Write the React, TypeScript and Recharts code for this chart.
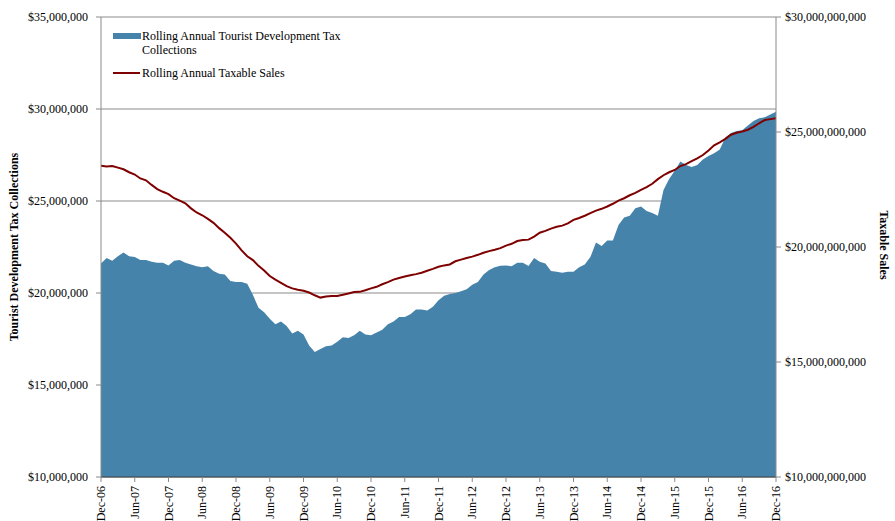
import {
  ComposedChart,
  Area,
  Line,
  XAxis,
  YAxis,
  CartesianGrid,
} from "recharts";

// Dec-06 .. Dec-16, monthly
const months = ["Jan", "Feb", "Mar", "Apr", "May", "Jun", "Jul", "Aug", "Sep", "Oct", "Nov", "Dec"];
const labels: string[] = [];
for (let i = 0; i <= 120; i++) {
  const m = (11 + i) % 12;
  const yr = 6 + Math.floor((11 + i) / 12);
  labels.push(`${months[m]}-${String(yr).padStart(2, "0")}`);
}

// rolling annual TDT collections, $ millions
const tdtCollections = [
  21.6, 21.9, 21.75, 22.0, 22.2, 22.0, 21.95, 21.8, 21.8, 21.7, 21.65, 21.65,
  21.5, 21.75, 21.8, 21.65, 21.55, 21.45, 21.4, 21.45, 21.2, 21.05, 21.0, 20.65,
  20.6, 20.6, 20.5, 19.9, 19.2, 18.95, 18.6, 18.3, 18.45, 18.2, 17.8, 17.95,
  17.75, 17.15, 16.8, 16.95, 17.1, 17.15, 17.35, 17.6, 17.55, 17.7, 17.95, 17.75,
  17.7, 17.85, 18.0, 18.3, 18.45, 18.7, 18.7, 18.85, 19.1, 19.1, 19.05, 19.25,
  19.6, 19.85, 19.95, 20.0, 20.1, 20.2, 20.45, 20.6, 21.0, 21.25, 21.4, 21.48,
  21.5, 21.45, 21.65, 21.65, 21.47, 21.9, 21.7, 21.6, 21.2, 21.15, 21.1, 21.15,
  21.15, 21.4, 21.55, 21.95, 22.75, 22.55, 22.85, 22.85, 23.7, 24.1, 24.2, 24.6,
  24.7, 24.45, 24.35, 24.2, 25.6, 26.2, 26.65, 27.15, 26.95, 26.85, 26.95, 27.25,
  27.45, 27.6, 27.8, 28.45, 28.7, 28.8, 28.85, 29.1, 29.35, 29.5, 29.55, 29.7,
  29.85,
];

// rolling annual taxable sales, $ billions
const taxableSales = [
  23.53, 23.5, 23.52, 23.45, 23.38, 23.25, 23.15, 22.98, 22.9, 22.7, 22.52, 22.4,
  22.3, 22.12, 22.02, 21.9, 21.68, 21.5, 21.38, 21.22, 21.05, 20.82, 20.62, 20.4,
  20.15, 19.85, 19.6, 19.43, 19.18, 18.98, 18.74, 18.58, 18.44, 18.3, 18.2, 18.14,
  18.1, 18.02, 17.9, 17.8, 17.85, 17.87, 17.87, 17.92, 17.98, 18.04, 18.05, 18.12,
  18.2, 18.27, 18.38, 18.47, 18.58, 18.65, 18.72, 18.77, 18.82, 18.88, 18.97, 19.05,
  19.14, 19.2, 19.24, 19.38, 19.45, 19.52, 19.58, 19.66, 19.75, 19.82, 19.88, 19.95,
  20.06, 20.14, 20.26, 20.3, 20.32, 20.45, 20.62, 20.7, 20.8, 20.88, 20.93, 21.03,
  21.18, 21.26, 21.36, 21.47, 21.58, 21.66, 21.76, 21.88, 22.02, 22.12, 22.25, 22.35,
  22.48, 22.6, 22.75, 22.95, 23.12, 23.25, 23.35, 23.52, 23.6, 23.73, 23.85, 24.0,
  24.2, 24.42, 24.55, 24.7, 24.88, 24.97, 25.02, 25.1, 25.22, 25.38, 25.52, 25.56,
  25.6,
];

const leftTicks = [10e6, 15e6, 20e6, 25e6, 30e6, 35e6];
const rightTicks = [10e9, 15e9, 20e9, 25e9, 30e9];

const data = labels.map((label, i) => ({
  label,
  tdt: tdtCollections[i] * 1e6,
  sales: taxableSales[i] * 1e9,
}));

const FONT = "'Liberation Serif', 'Times New Roman', serif";
const AREA_COLOR = "#4683AB";
const LINE_COLOR = "#7F0000";
const GRID = "#8A8A8A";

const money = (v: number) => "$" + v.toLocaleString("en-US");

const XTick = ({ x, y, payload }: any) => (
  <g transform={`translate(${x},${y})`}>
    <text
      transform="rotate(-90)"
      x={-2}
      y={0}
      dy="0.35em"
      textAnchor="end"
      fontSize={12}
      fontFamily={FONT}
      fill="#000"
    >
      {payload.value}
    </text>
  </g>
);

const LegendBox = () => (
  <div
    style={{
      position: "absolute",
      left: 113,
      top: 29,
      fontFamily: FONT,
      fontSize: 12,
      color: "#000",
      lineHeight: "14px",
    }}
  >
    <div style={{ display: "flex", alignItems: "flex-start" }}>
      <span style={{ width: 28, height: 6, background: AREA_COLOR, marginTop: 4, marginRight: 1, flexShrink: 0 }} />
      <span style={{ width: 225 }}>Rolling Annual Tourist Development Tax Collections</span>
    </div>
    <div style={{ display: "flex", alignItems: "center", marginTop: 9 }}>
      <span style={{ width: 27, height: 2, background: LINE_COLOR, marginRight: 2, flexShrink: 0 }} />
      <span>Rolling Annual Taxable Sales</span>
    </div>
  </div>
);

export default function App() {
  return (
    <div style={{ position: "absolute", left: 0, top: 0, width: 895, height: 521, background: "#fff" }}>
      <ComposedChart
        width={895}
        height={521}
        data={data}
        margin={{ top: 17, right: 0, bottom: 0, left: 0 }}
      >
        <CartesianGrid yAxisId="left" vertical={false} stroke={GRID} />
        <XAxis
          dataKey="label"
          interval={5}
          height={44}
          tick={<XTick />}
          tickSize={5}
          tickLine={{ stroke: GRID }}
          axisLine={{ stroke: "#404040" }}
        />
        <YAxis
          yAxisId="left"
          width={101}
          domain={[10e6, 35e6]}
          ticks={leftTicks}
          tickFormatter={money}
          tickSize={5}
          tickMargin={8}
          tickLine={{ stroke: GRID }}
          axisLine={{ stroke: GRID }}
          tick={{ fontSize: 12, fill: "#000", fontFamily: FONT }}
          label={{
            content: () => (
              <text
                x={14}
                y={247}
                transform="rotate(-90 14 247)"
                textAnchor="middle"
                dominantBaseline="central"
                fontFamily={FONT}
                fontSize={12}
                fontWeight="bold"
                fill="#000"
              >
                Tourist Development Tax Collections
              </text>
            ),
          }}
        />
        <YAxis
          yAxisId="right"
          orientation="right"
          width={119}
          domain={[10e9, 30e9]}
          ticks={rightTicks}
          tickFormatter={money}
          tickSize={5}
          tickMargin={4}
          tickLine={{ stroke: GRID }}
          axisLine={{ stroke: GRID }}
          tick={{ fontSize: 12, fill: "#000", fontFamily: FONT }}
          label={{
            content: () => (
              <text
                x={884}
                y={245}
                transform="rotate(90 884 245)"
                textAnchor="middle"
                dominantBaseline="central"
                fontFamily={FONT}
                fontSize={12}
                fontWeight="bold"
                fill="#000"
              >
                Taxable Sales
              </text>
            ),
          }}
        />
        <Area
          yAxisId="left"
          type="linear"
          dataKey="tdt"
          fill={AREA_COLOR}
          fillOpacity={1}
          stroke="none"
          isAnimationActive={false}
          name="Rolling Annual Tourist Development Tax Collections"
        />
        <Line
          yAxisId="right"
          type="linear"
          dataKey="sales"
          stroke={LINE_COLOR}
          strokeWidth={2}
          dot={false}
          isAnimationActive={false}
          name="Rolling Annual Taxable Sales"
        />
      </ComposedChart>
      <LegendBox />
    </div>
  );
}
